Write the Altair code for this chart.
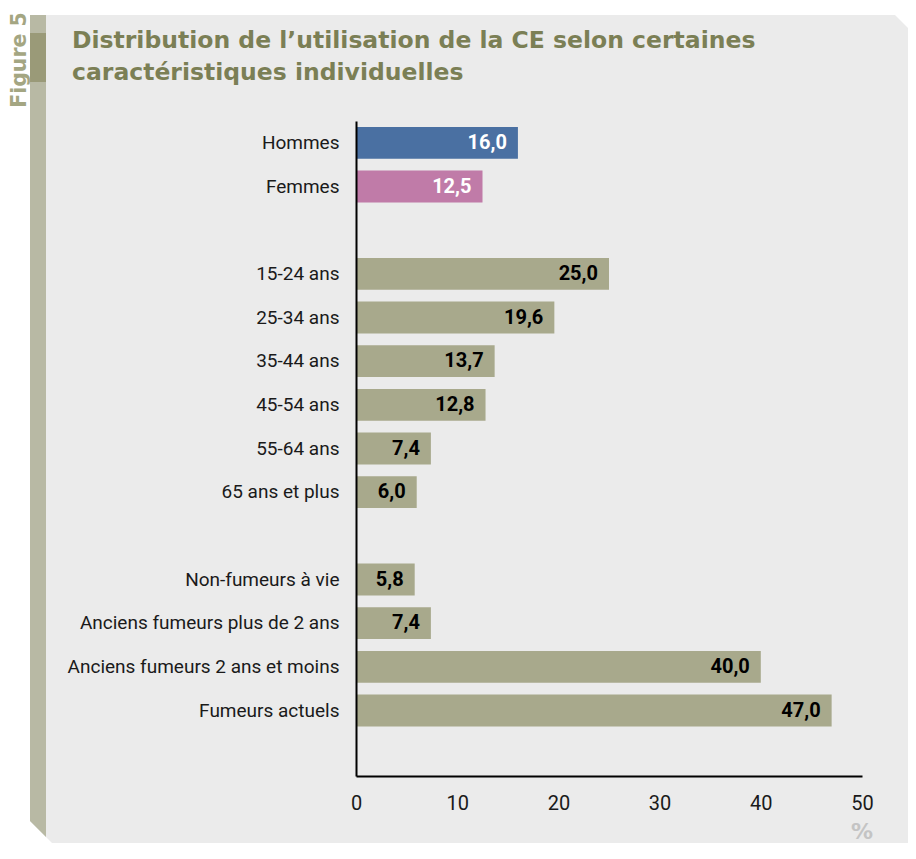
import altair as alt
import pandas as pd

# ---- data ----
categories = ["Hommes", "Femmes",
              "15-24 ans", "25-34 ans", "35-44 ans", "45-54 ans", "55-64 ans", "65 ans et plus",
              "Non-fumeurs à vie", "Anciens fumeurs plus de 2 ans",
              "Anciens fumeurs 2 ans et moins", "Fumeurs actuels"]
values = [16.0, 12.5, 25.0, 19.6, 13.7, 12.8, 7.4, 6.0, 5.8, 7.4, 40.0, 47.0]
groups = ["Hommes", "Femmes"] + ["autre"] * 10
row_order = ["Hommes", "Femmes", " ",
             "15-24 ans", "25-34 ans", "35-44 ans", "45-54 ans", "55-64 ans", "65 ans et plus", "  ",
             "Non-fumeurs à vie", "Anciens fumeurs plus de 2 ans",
             "Anciens fumeurs 2 ans et moins", "Fumeurs actuels", "   "]
x_ticks = [0, 10, 20, 30, 40, 50]
group_names = ["Hommes", "Femmes", "autre"]
group_colors = ["#4a70a2", "#c07ba8", "#a8a98c"]

title_lines = ["Distribution de l\u2019utilisation de la CE selon certaines",
               "caractéristiques individuelles"]
figure_label = "Figure 5"
unit_label = "%"

df = pd.DataFrame({
    "cat": categories,
    "val": values,
    "grp": groups,
    "lab": [f"{v:.1f}".replace(".", ",") for v in values],
})

NARROW = "Roboto"
TITLEF = "DejaVu Sans"

yenc = alt.Y("cat:N", sort=row_order,
             scale=alt.Scale(domain=row_order, paddingInner=0.27, paddingOuter=0.135),
             axis=alt.Axis(title=None, ticks=False, labelFontSize=19, labelFont=NARROW,
                           labelColor="#1a1a1a", labelPadding=17, domainColor="black",
                           domainWidth=2, grid=False, labelLimit=400, zindex=1))
xenc = alt.X("val:Q", scale=alt.Scale(domain=[0, 50], nice=False),
             axis=alt.Axis(title=None, values=x_ticks, ticks=False, labelFontSize=20,
                           labelFont=NARROW, labelColor="#1a1a1a", labelPadding=17,
                           domainColor="black", domainWidth=2, grid=False,
                           labelFlush=False, format="d", zindex=1))

one = pd.DataFrame({"k": [0]})

panel_path = "M-326,-106 L539,-106 L552,-93 L552,722 L-304,722 L-326,700 Z"
stripe_path = "M-326,-106 L-310,-106 L-310,716 L-326,700 Z"
dark_path = "M-326,-88 L-310,-88 L-310,-39 L-326,-39 Z"

def shape_layer(path, color):
    return alt.Chart(one).mark_point(shape=path, size=4, filled=True, color=color,
                                     opacity=1, strokeWidth=0).encode(
        x=alt.value(0), y=alt.value(0))

panel = shape_layer(panel_path, "#ebebeb")
stripe = shape_layer(stripe_path, "#b8b9a4")
dark = shape_layer(dark_path, "#9a9a78")

bars = alt.Chart(df).mark_bar().encode(
    x=xenc, y=yenc,
    color=alt.Color("grp:N", scale=alt.Scale(domain=group_names, range=group_colors), legend=None),
)
labels = alt.Chart(df).mark_text(align="right", dx=-11, baseline="middle", font=NARROW,
                                 fontWeight="bold", fontSize=20).encode(
    x="val:Q", y=alt.Y("cat:N", sort=row_order),
    text="lab:N",
    color=alt.condition("datum.grp != 'autre'", alt.value("white"), alt.value("black")),
)

t1 = alt.Chart(one).mark_text(align="left", baseline="alphabetic", font=TITLEF, fontWeight="bold",
                              fontSize=23.5, color="#7b7f55").encode(
    x=alt.value(-284), y=alt.value(-73), text=alt.value(title_lines[0]))
t2 = alt.Chart(one).mark_text(align="left", baseline="alphabetic", font=TITLEF, fontWeight="bold",
                              fontSize=23.5, color="#7b7f55").encode(
    x=alt.value(-284), y=alt.value(-41), text=alt.value(title_lines[1]))
fig = alt.Chart(one).mark_text(align="center", baseline="alphabetic", angle=270, font=TITLEF,
                               fontWeight="bold", fontSize=20.5, color="#a4a682").encode(
    x=alt.value(-330), y=alt.value(-61), text=alt.value(figure_label))
pct = alt.Chart(one).mark_text(align="center", baseline="alphabetic", font=TITLEF,
                               fontWeight="bold", fontSize=22, color="#c4c4c4").encode(
    x=alt.value(506), y=alt.value(718), text=alt.value(unit_label))

chart = alt.layer(panel, stripe, dark, bars, labels, t1, t2, fig, pct).properties(
    width=506, height=655,
    padding={"left": 348, "top": 113, "right": 46, "bottom": 67},
    autosize=alt.AutoSizeParams(type="none"),
    background="white",
).configure_view(stroke=None)

chart.save("out.html", embed_options={"renderer": "svg", "actions": False})
